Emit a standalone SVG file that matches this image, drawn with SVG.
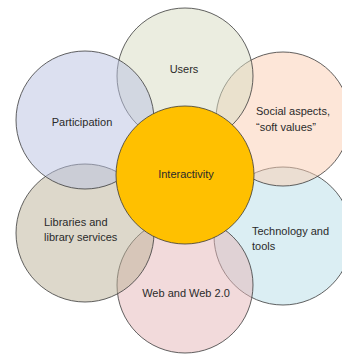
<svg xmlns="http://www.w3.org/2000/svg" width="342" height="354" viewBox="0 0 342 354">
<style>
.c{stroke:#3a3a3a;stroke-width:0.8;fill-opacity:0.5}
.t{font-family:"Liberation Sans",Arial,sans-serif;font-size:11px;fill:#2a2a2a}
.m{text-anchor:middle}
</style>
<rect width="342" height="354" fill="#ffffff"/>
<g id="technology"><circle class="c" cx="283" cy="236" r="69" fill="#B7DDE8"/></g>
<g id="social"><circle class="c" cx="283" cy="119" r="67" fill="#FBCDB1"/></g>
<g id="users"><circle class="c" cx="185" cy="76" r="68" fill="#D7DBC1"/></g>
<g id="web"><circle class="c" cx="185" cy="285" r="68" fill="#E5B5B7"/></g>
<g id="libraries"><circle class="c" cx="85" cy="233" r="69" fill="#BBB297"/></g>
<g id="participation"><circle class="c" cx="85" cy="120" r="69" fill="#B9C1E1"/></g>
<g id="interactivity"><circle cx="185" cy="175" r="69" fill="#FFC000" stroke="#3a3a3a" stroke-width="0.8"/></g>
<g id="labels">
<text class="t m" x="184" y="73">Users</text>
<text class="t m" x="186" y="178">Interactivity</text>
<text class="t m" x="186" y="297">Web and Web 2.0</text>
<text class="t m" x="82" y="126">Participation</text>
<text class="t" x="256" y="115">Social aspects,</text>
<text class="t" x="256" y="131">“soft values”</text>
<text class="t" x="44" y="226">Libraries and</text>
<text class="t" x="44" y="241">library services</text>
<text class="t" x="252" y="235">Technology and</text>
<text class="t" x="252" y="250">tools</text>
</g>
</svg>
